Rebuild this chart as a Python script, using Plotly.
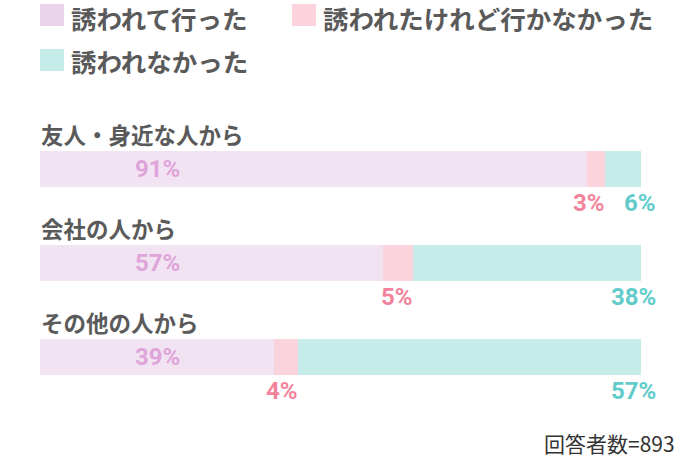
import plotly.graph_objects as go

# Survey data
categories = ["友人・身近な人から", "会社の人から", "その他の人から"]
went = [91, 57, 39]
declined = [3, 5, 4]
not_invited = [6, 38, 57]
series_names = ["誘われて行った", "誘われたけれど行かなかった", "誘われなかった"]
respondents = 893

bar_colors = ["#f2e3f2", "#fbd3dc", "#c6ecea"]
legend_colors = ["#ecd3ec", "#fcd3dc", "#c6ecea"]
label_colors = ["#dfa5db", "#f2849b", "#62cccb"]
jp_font = "Noto Sans CJK JP"
num_font = "Roboto"


# page pixel -> paper coords (plot area spans x 40..641, y 122..404)
def px(x):
    return (x - 40) / 601


def py(y):
    return (404 - y) / 282


idx = list(range(len(categories)))

fig = go.Figure()
for name, vals, col in zip(series_names, [went, declined, not_invited], bar_colors):
    fig.add_trace(go.Bar(
        y=idx, x=vals, name=name, orientation="h",
        marker=dict(color=col, line=dict(width=0)),
        width=0.375, showlegend=False, hoverinfo="x",
    ))

annotations = []
for i, cat in enumerate(categories):
    # category title above the bar
    annotations.append(dict(
        x=0, y=i, xref="x", yref="y", text="<b>%s</b>" % cat,
        xanchor="left", yanchor="middle", yshift=35, xshift=-1, showarrow=False,
        font=dict(family=jp_font, size=22.5, color="#5a5a5a"),
    ))
    # first segment value inside bar
    annotations.append(dict(
        x=19.5, y=i, xref="x", yref="y", text="%d%%" % went[i],
        xanchor="center", yanchor="middle", showarrow=False,
        font=dict(family=num_font, size=24, color=label_colors[0], weight=700),
    ))
    # second segment value below, right-aligned to segment end
    annotations.append(dict(
        x=went[i] + declined[i], y=i, xref="x", yref="y", text="%d%%" % declined[i],
        xanchor="right", yanchor="middle", yshift=-34, xshift=2, showarrow=False,
        font=dict(family=num_font, size=24, color=label_colors[1], weight=700),
    ))
    # third segment value below, right end
    annotations.append(dict(
        x=100, y=i, xref="x", yref="y", text="%d%%" % not_invited[i],
        xanchor="right", yanchor="middle", yshift=-34, xshift=17, showarrow=False,
        font=dict(family=num_font, size=24, color=label_colors[2], weight=700),
    ))

# legend drawn as squares + text (square centre y, text centre y)
legend_pos = [(40, 15, 17.5), (292, 15, 17.5), (40, 60, 61)]
shapes = []
for (lx, sy, ty), name, col in zip(legend_pos, series_names, legend_colors):
    shapes.append(dict(
        type="rect", xref="paper", yref="paper",
        x0=px(lx), x1=px(lx + 24), y0=py(sy + 11), y1=py(sy - 11),
        fillcolor=col, line=dict(width=0), layer="above",
    ))
    annotations.append(dict(
        x=px(lx + 29), y=py(ty), xref="paper", yref="paper",
        text="<b>%s</b>" % name, xanchor="left", yanchor="middle", showarrow=False,
        font=dict(family=jp_font, size=25.5, color="#5a5a5a"),
    ))

annotations.append(dict(
    x=px(677), y=py(443), xref="paper", yref="paper",
    text="回答者数=%d" % respondents, xanchor="right", yanchor="middle",
    showarrow=False, font=dict(family=jp_font, size=21, color="#333333"),
))

fig.update_layout(
    width=691, height=467,
    margin=dict(l=40, r=50, t=122, b=63),
    barmode="stack", bargap=0,
    paper_bgcolor="white", plot_bgcolor="white",
    xaxis=dict(range=[0, 100], visible=False, fixedrange=True),
    yaxis=dict(range=[2.5, -0.5], visible=False, fixedrange=True),
    annotations=annotations, shapes=shapes,
    showlegend=False,
)

# drop the browser's default 8px body margin so the figure fills the window
fig.write_html(
    "out.html",
    config={"displayModeBar": False},
    post_script="document.body.style.margin='0';document.body.style.overflow='hidden';",
)
